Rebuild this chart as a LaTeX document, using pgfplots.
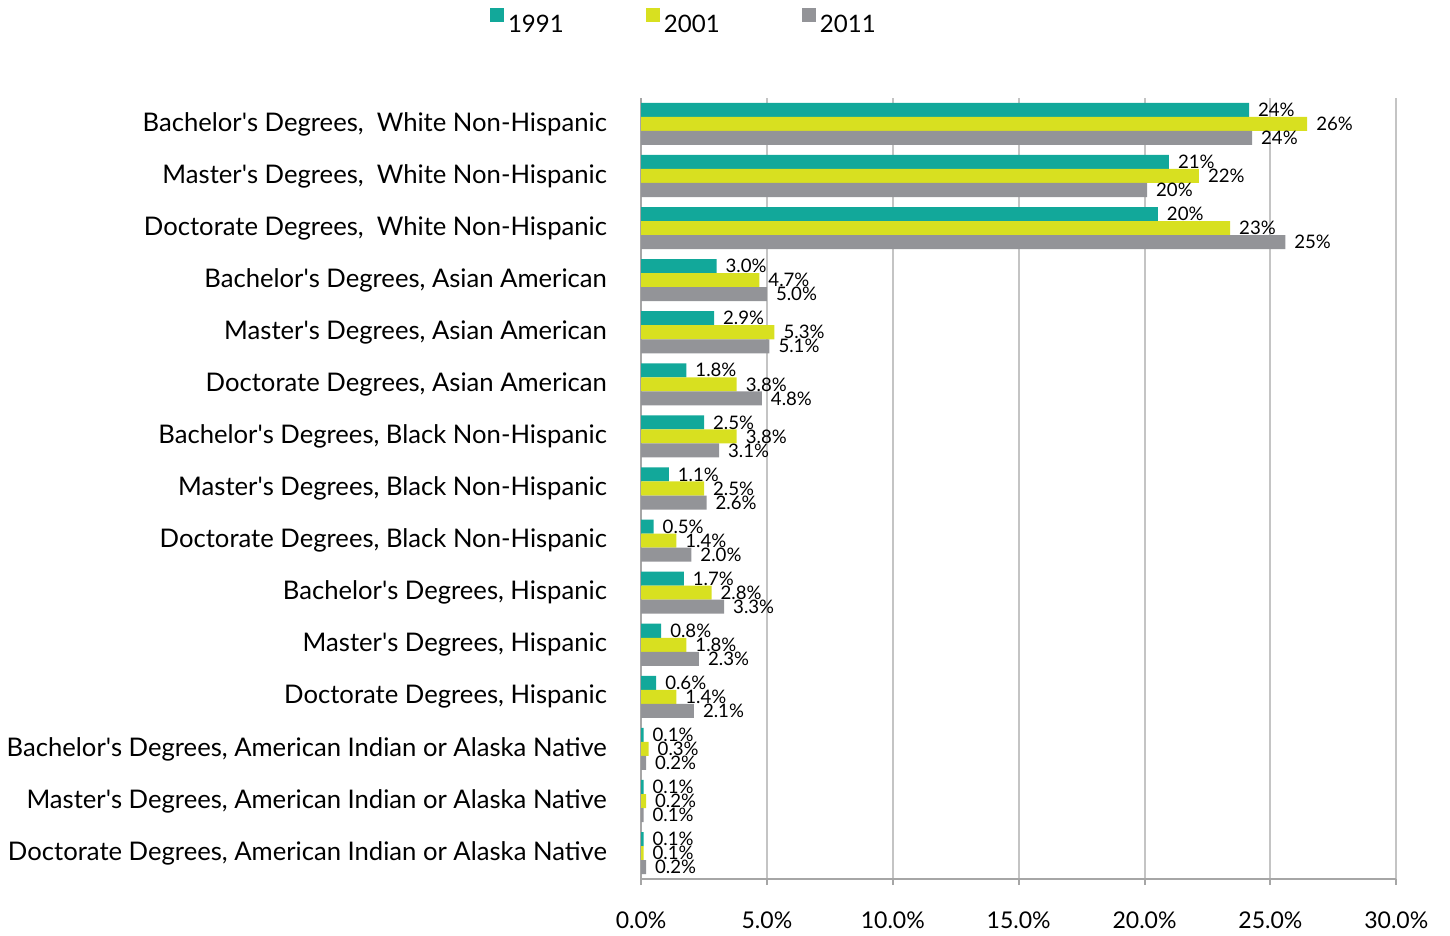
\documentclass[border={0pt 0pt 7.5pt 2pt}]{standalone}
\usepackage{pgfplots}
\pgfplotsset{compat=1.18}
\usepackage{pgfplotstable}
\usepackage{fontspec}
\setmainfont{Lato}
\newcommand{\q}{\textquotesingle}

\definecolor{cTeal}{HTML}{12A89A}
\definecolor{cLime}{HTML}{D8E020}
\definecolor{cGray}{HTML}{939498}
\definecolor{gridc}{HTML}{C4C4C4}
\definecolor{axisc}{HTML}{A6A6A6}

% y: 14 = top category, 0 = bottom
\pgfplotstableread{
y x lab
14 24.15 24
13 20.97 21
12 20.53 20
11 3.0 3.0
10 2.9 2.9
9 1.8 1.8
8 2.5 2.5
7 1.1 1.1
6 0.5 0.5
5 1.7 1.7
4 0.8 0.8
3 0.6 0.6
2 0.1 0.1
1 0.1 0.1
0 0.1 0.1
}\yrA
\pgfplotstableread{
y x lab
14 26.46 26
13 22.16 22
12 23.4 23
11 4.7 4.7
10 5.3 5.3
9 3.8 3.8
8 3.8 3.8
7 2.5 2.5
6 1.4 1.4
5 2.8 2.8
4 1.8 1.8
3 1.4 1.4
2 0.3 0.3
1 0.2 0.2
0 0.1 0.1
}\yrB
\pgfplotstableread{
y x lab
14 24.27 24
13 20.1 20
12 25.59 25
11 5.0 5.0
10 5.1 5.1
9 4.8 4.8
8 3.1 3.1
7 2.6 2.6
6 2.0 2.0
5 3.3 3.3
4 2.3 2.3
3 2.1 2.1
2 0.2 0.2
1 0.1 0.1
0 0.2 0.2
}\yrC

\begin{document}
\begin{tikzpicture}
\begin{axis}[
    xbar,
    bar width=7pt,
    scale only axis,
    width=377pt, height=390pt,
    xmin=0, xmax=30,
    ymin=-0.5, ymax=14.5,
    axis x line*=bottom,
    axis y line*=left,
    axis line style={axisc, line width=1.2pt},
    xtick={0,5,...,30},
    xticklabel={\pgfmathprintnumber[fixed,fixed zerofill,precision=1]{\tick}\%},
    /pgf/number format/assume math mode=true,
    xticklabel style={font=\fontsize{11.5}{13}\selectfont, yshift=-10pt},
    xmajorgrids,
    major grid style={gridc, line width=1pt},
    major tick length=3pt,
    x tick style={axisc, line width=1pt},
    xtick pos=bottom,
    tick align=outside,
    ytick={0,...,14},
    yticklabels={
      {Doctorate Degrees, American Indian or Alaska Native},
      {Master\q s Degrees, American Indian or Alaska Native},
      {Bachelor\q s Degrees, American Indian or Alaska Native},
      {Doctorate Degrees, Hispanic},
      {Master\q s Degrees, Hispanic},
      {Bachelor\q s Degrees, Hispanic},
      {Doctorate Degrees, Black Non-Hispanic},
      {Master\q s Degrees, Black Non-Hispanic},
      {Bachelor\q s Degrees, Black Non-Hispanic},
      {Doctorate Degrees, Asian American},
      {Master\q s Degrees, Asian American},
      {Bachelor\q s Degrees, Asian American},
      {Doctorate Degrees,~ White Non-Hispanic},
      {Master\q s Degrees,~ White Non-Hispanic},
      {Bachelor\q s Degrees,~ White Non-Hispanic}},
    yticklabel style={font=\fontsize{12.8}{14}\selectfont, xshift=-10.5pt},
    y tick style={draw=none},
    extra y ticks={-0.5,0.5,...,14.5},
    extra y tick labels={},
    extra y tick style={y tick style={axisc, line width=1pt}, major tick length=3.5pt},
    nodes near coords={\pgfplotspointmeta\%},
    point meta=explicit symbolic,
    every node near coord/.append style={font=\fontsize{9.3}{10}\selectfont, anchor=west, xshift=1pt},
    legend style={at={(0.058,1.095)}, anchor=center, draw=none, legend columns=3,
      font=\fontsize{12}{14}\selectfont,
      /tikz/every even column/.append style={column sep=39pt}},
    legend image code/.code={\fill[#1] (0pt,1.5pt) rectangle (7pt,8.5pt);},
]
\addplot[draw=none, fill=cTeal, bar shift=7pt] table[x=x, y=y, meta=lab] {\yrA};
\addplot[draw=none, fill=cLime, bar shift=0pt] table[x=x, y=y, meta=lab] {\yrB};
\addplot[draw=none, fill=cGray, bar shift=-7pt] table[x=x, y=y, meta=lab] {\yrC};
\legend{1991, 2001, 2011}
\end{axis}
\end{tikzpicture}
\end{document}
